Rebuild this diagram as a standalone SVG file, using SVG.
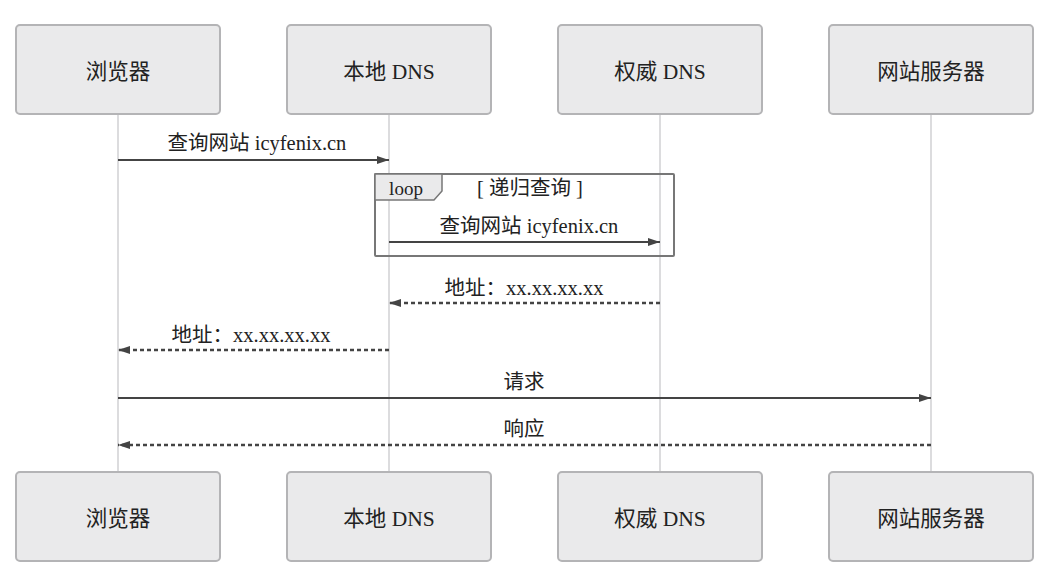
<svg xmlns="http://www.w3.org/2000/svg" width="1056" height="574" viewBox="0 0 1056 574">
<defs>
<style>
.box{fill:#eaeaeb;stroke:#b4b4b6;stroke-width:2}
.t{font-family:"Liberation Serif","Noto Sans CJK SC",serif;font-size:20.5px;fill:#222;text-anchor:middle}
.bt{font-size:21.5px}
.life{stroke:#dcdcde;stroke-width:2}
.msg{stroke:#444;stroke-width:2;fill:none}
.dash{stroke-dasharray:4,3;stroke-width:2.5}
</style>
<marker id="ah" markerWidth="12" markerHeight="8" refX="12" refY="4" orient="auto" markerUnits="userSpaceOnUse"><path d="M0,0 L12,4 L0,8 z" fill="#444"/></marker>
</defs>
<rect width="1056" height="574" fill="#fff"/>
<g id="lifelines">
<line class="life" x1="118" y1="114" x2="118" y2="472"/>
<line class="life" x1="389" y1="114" x2="389" y2="472"/>
<line class="life" x1="660" y1="114" x2="660" y2="472"/>
<line class="life" x1="931" y1="114" x2="931" y2="472"/>
</g>
<g id="browser-top"><rect class="box" x="16" y="25" width="204" height="89" rx="4"/><text class="t bt" x="118" y="79">浏览器</text></g>
<g id="local-dns-top"><rect class="box" x="287" y="25" width="204" height="89" rx="4"/><text class="t bt" x="389" y="79">本地 DNS</text></g>
<g id="auth-dns-top"><rect class="box" x="558" y="25" width="204" height="89" rx="4"/><text class="t bt" x="660" y="79">权威 DNS</text></g>
<g id="server-top"><rect class="box" x="829" y="25" width="204" height="89" rx="4"/><text class="t bt" x="931" y="79">网站服务器</text></g>
<g id="browser-bottom"><rect class="box" x="16" y="472" width="204" height="89" rx="4"/><text class="t bt" x="118" y="526">浏览器</text></g>
<g id="local-dns-bottom"><rect class="box" x="287" y="472" width="204" height="89" rx="4"/><text class="t bt" x="389" y="526">本地 DNS</text></g>
<g id="auth-dns-bottom"><rect class="box" x="558" y="472" width="204" height="89" rx="4"/><text class="t bt" x="660" y="526">权威 DNS</text></g>
<g id="server-bottom"><rect class="box" x="829" y="472" width="204" height="89" rx="4"/><text class="t bt" x="931" y="526">网站服务器</text></g>
<g id="loop">
<rect x="375" y="174" width="299" height="82" fill="none" stroke="#777" stroke-width="2" rx="1"/>
<path d="M375,174 H442 V191 L434,200 H375 Z" fill="#eaeaeb" stroke="#777" stroke-width="1.5"/>
<text class="t" x="406" y="195" style="font-size:19px">loop</text>
<text class="t" x="530" y="195">[ 递归查询 ]</text>
</g>
<g id="connectors">
<line class="msg" x1="118" y1="160" x2="389" y2="160" marker-end="url(#ah)"/>
<text class="t" x="257" y="150">查询网站 icyfenix.cn</text>
<line class="msg" x1="389" y1="242" x2="660" y2="242" marker-end="url(#ah)"/>
<text class="t" x="529" y="233">查询网站 icyfenix.cn</text>
<line class="msg dash" x1="660" y1="303" x2="389" y2="303" marker-end="url(#ah)"/>
<text class="t" x="524" y="295">地址：xx.xx.xx.xx</text>
<line class="msg dash" x1="389" y1="350" x2="118" y2="350" marker-end="url(#ah)"/>
<text class="t" x="251" y="342">地址：xx.xx.xx.xx</text>
<line class="msg" x1="118" y1="398" x2="931" y2="398" marker-end="url(#ah)"/>
<text class="t" x="524" y="389">请求</text>
<line class="msg dash" x1="931" y1="445" x2="118" y2="445" marker-end="url(#ah)"/>
<text class="t" x="524" y="436">响应</text>
</g>
</svg>
